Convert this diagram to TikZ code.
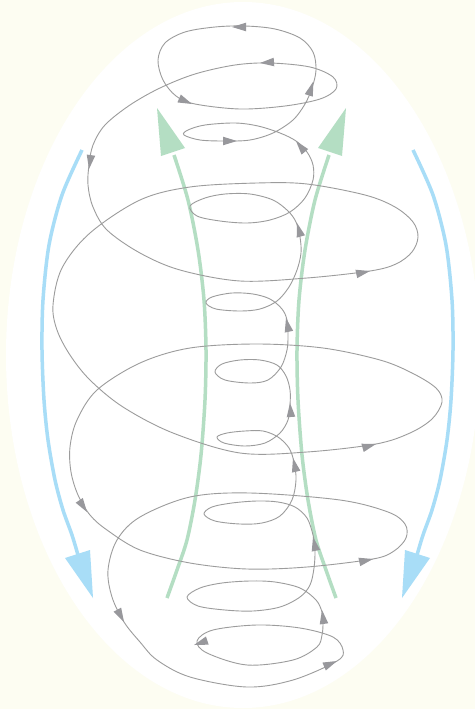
\documentclass[tikz,border=0pt]{standalone}
\usetikzlibrary{calc}
\definecolor{bgcream}{HTML}{FDFDF2}
\definecolor{curvegray}{HTML}{9C9C9C}
\definecolor{arrgray}{HTML}{98989C}
\definecolor{upgreen}{HTML}{B4DEC3}
\definecolor{downblue}{HTML}{A8DDF7}
\newcommand\garr[2]{%
  \coordinate (gT) at #1; \coordinate (gP) at #2;
  \coordinate (gB) at ($(gT)!14pt!(gP)$);
  \fill[arrgray] (gT) -- ($(gB)!4.3pt!90:(gT)$) -- ($(gB)!4.3pt!-90:(gT)$) -- cycle;}
\begin{document}
\begin{tikzpicture}[x=1pt,y=-1pt,
  spiral/.style={draw=curvegray,line width=0.9pt},
  greenshaft/.style={draw=upgreen,line width=3.5pt},
  blueshaft/.style={draw=downblue,line width=3.5pt}]
\useasboundingbox (0,0) rectangle (475,709);
\clip (0,0) rectangle (475,709);
\fill[bgcream] (0,0) rectangle (475,709);
\fill[white] (243,355) ellipse [x radius=237, y radius=353];
% green upward arrows
\draw[greenshaft] plot[smooth] coordinates {(167,598) (177,570) (187,540) (195,500) (201,455) (205,400) (206,350) (204,300) (198,250) (188,200) (174,155)};
\fill[upgreen] (157,108) -- (185,148) -- (161,156) -- cycle;
\draw[greenshaft] plot[smooth] coordinates {(336,598) (326,570) (316,540) (308,500) (302,455) (298,400) (297,350) (299,300) (305,250) (315,200) (329,155)};
\fill[upgreen] (346,108) -- (318,148) -- (342,156) -- cycle;
% blue downward arrows
\draw[blueshaft] plot[smooth] coordinates {(82,150) (62,195) (49,245) (43,300) (42,350) (44,400) (48,440) (55,480) (63,510) (72,535) (78,555)};
\fill[downblue] (93,598) -- (65,558) -- (90,550) -- cycle;
\draw[blueshaft] plot[smooth] coordinates {(413,150) (433,195) (446,245) (452,300) (453,350) (451,400) (447,440) (440,480) (432,510) (423,535) (417,555)};
\fill[downblue] (402,598) -- (430,558) -- (405,550) -- cycle;
% spiral
\draw[spiral] plot[smooth cycle, tension=0.55] coordinates {
(323,623) (322,612) (316,600) (300,588) (275,582) (250,581) (222,583) (200,588) (187,597)
(198,606) (225,610) (253,611) (280,607) (300,597) (310,585) (314,568) (315,550)
(313,535) (307,518) (295,507) (278,502) (257,501) (232,503) (212,507) (204,514)
(215,521) (240,524) (262,523) (280,516) (292,500) (296,480) (294,462)
(289,448) (278,437) (263,431) (245,431) (227,433) (217,437)
(224,443) (245,446) (265,443) (280,433) (288,420) (290,405)
(290,390) (286,376) (277,365) (260,360) (240,360) (222,364) (215,372)
(225,380) (250,383) (268,380) (281,367) (287,350) (288,335)
(287,320) (282,309) (270,299) (253,294) (232,293) (212,297) (206,303)
(216,309) (240,311) (260,309) (277,301) (289,287) (297,270) (301,253)
(300,237) (296,222) (288,211) (273,200) (250,194) (225,194) (205,198) (190,206)
(197,216) (220,221) (247,223) (270,220) (290,212) (305,198) (313,180)
(313,165) (307,152) (296,141) (280,133) (258,126) (235,123) (205,125) (188,130)
(184,135) (200,140) (225,141) (250,140) (273,133) (293,120) (305,104) (312,88)
(316,70) (313,52) (300,38) (275,29) (245,26) (215,27) (185,32) (165,43)
(158,60) (163,80) (176,96) (195,104) (240,109) (285,106) (320,99) (336,89)
(333,77) (310,67) (270,63) (235,65) (195,74) (160,88) (130,105) (105,125)
(93,145) (89,165) (88,185) (93,207) (107,230) (140,253) (180,270) (240,281)
(307,278) (370,271) (396,264) (412,252) (418,237) (413,222) (395,207) (365,195) (307,184) (257,183)
(190,187) (140,200) (90,233) (62,268) (53,305) (57,330) (70,355) (90,380)
(123,407) (173,433) (240,453) (307,452) (376,444) (410,433) (432,419) (442,402)
(436,388) (412,373) (380,360) (323,348) (257,344) (190,348) (140,363) (97,390) (77,420)
(70,447) (71,472) (78,495) (90,515) (107,530) (140,550) (190,563) (247,569)
(307,567) (373,559) (394,551) (406,538) (405,524) (388,512) (340,500) (250,493) (190,497)
(140,517) (117,540) (108,570) (112,597) (124,622) (140,642) (157,660) (190,677)
(247,687) (293,680) (337,661) (343,650) (333,637) (300,628) (257,625) (213,630)
(197,641) (207,653) (247,665) (293,660) (317,647) (322,635)};
% arrowheads on the spiral
\garr{(232,27)}{(246,27)}
\garr{(260,63)}{(274,62)}
\garr{(192,104)}{(178,98)}
\garr{(313,82)}{(309,95)}
\garr{(237,141)}{(223,141)}
\garr{(296,141)}{(305,152)}
\garr{(89,169)}{(91,155)}
\garr{(297,223)}{(301,237)}
\garr{(370,271)}{(356,274)}
\garr{(286,318)}{(289,332)}
\garr{(290,403)}{(291,417)}
\garr{(376,444)}{(362,448)}
\garr{(293,458)}{(296,471)}
\garr{(87,512)}{(79,500)}
\garr{(313,537)}{(316,551)}
\garr{(373,559)}{(359,562)}
\garr{(124,622)}{(117,609)}
\garr{(322,610)}{(324,624)}
\garr{(194,645)}{(206,641)}
\garr{(337,661)}{(323,667)}
\end{tikzpicture}
\end{document}
